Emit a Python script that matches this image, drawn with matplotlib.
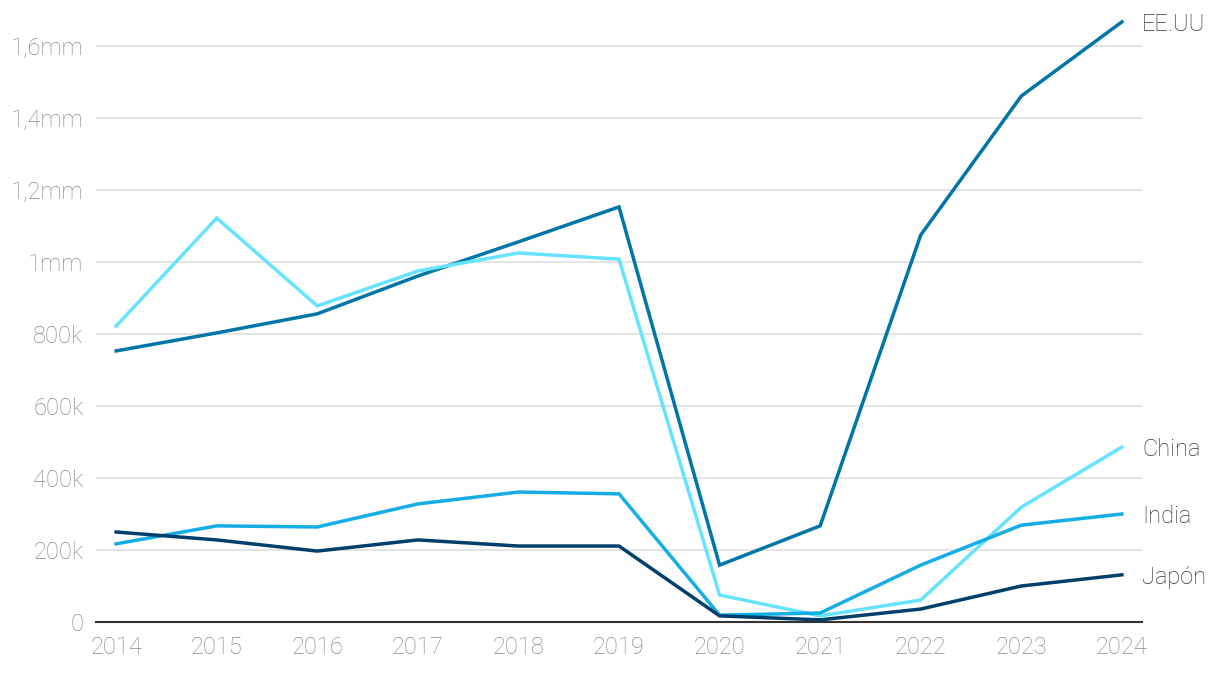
import matplotlib
matplotlib.use('Agg')
import matplotlib.pyplot as plt

# Data
years = list(range(2014, 2025))
eeuu = [753e3, 803e3, 856e3, 961e3, 1056e3, 1153e3, 158e3, 267e3, 1075e3, 1461e3, 1667e3]
china = [822e3, 1122e3, 878e3, 975e3, 1025e3, 1008e3, 75e3, 17e3, 61e3, 319e3, 486e3]
india = [217e3, 267e3, 264e3, 328e3, 361e3, 356e3, 19e3, 25e3, 158e3, 269e3, 300e3]
japon = [250e3, 228e3, 197e3, 228e3, 211e3, 211e3, 17e3, 6e3, 36e3, 100e3, 131e3]

ytick_vals = [0, 200e3, 400e3, 600e3, 800e3, 1e6, 1.2e6, 1.4e6, 1.6e6]
ytick_labels = ['0', '200k', '400k', '600k', '800k', '1mm', '1,2mm', '1,4mm', '1,6mm']

series = [
    ('EE.UU', eeuu, '#0076a8'),
    ('China', china, '#66e3ff'),
    ('India', india, '#14ade6'),
    ('Japón', japon, '#003f6b'),
]

plt.rcParams['font.family'] = ['Roboto', 'DejaVu Sans']
plt.rcParams['font.weight'] = 'light'

fig = plt.figure(figsize=(12.2, 6.74), dpi=100)
ax = fig.add_axes([96/1220, 52/674, (1142-96)/1220, (622-10)/674])

for name, vals, color in series:
    ax.plot(years, vals, color=color, lw=2.5, solid_joinstyle='miter', clip_on=False, zorder=3)
    ax.annotate(name, xy=(years[-1], vals[-1]), xytext=(14.4, -2), textcoords='offset points',
                va='center', ha='left', fontsize=17, color='#333333', fontweight='light')

ax.set_xlim(2013.8, 2024.2)
ax.set_ylim(0, 1.7e6)
ax.set_xticks(years)
ax.set_xticklabels([str(y) for y in years])
ax.set_yticks(ytick_vals)
ax.set_yticklabels(ytick_labels)

ax.grid(axis='y', color='#e2e2e2', lw=1.3)
ax.set_axisbelow(True)
for s in ['top', 'right', 'left']:
    ax.spines[s].set_visible(False)
ax.spines['bottom'].set_color('#333333')
ax.spines['bottom'].set_linewidth(1.5)
ax.tick_params(axis='both', length=0, labelsize=17, labelcolor='#888888')
ax.tick_params(axis='y', pad=9)
ax.tick_params(axis='x', pad=10)

fig.savefig('out.png', dpi=100)
